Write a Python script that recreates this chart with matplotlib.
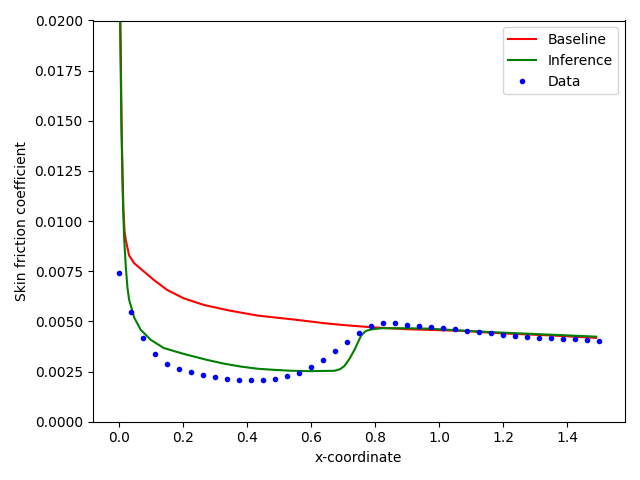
import matplotlib
matplotlib.use("Agg")
import matplotlib.pyplot as plt
import numpy as np

# baseline curve
x_base = [0.0, 0.004, 0.008, 0.0135, 0.017, 0.021, 0.031, 0.047, 0.078, 0.109,
          0.150, 0.202, 0.265, 0.342, 0.433, 0.49, 0.5375, 0.59,
          0.642, 0.7, 0.7875, 0.9, 1.069, 1.2, 1.35, 1.49]
cf_base = [0.03, 0.02, 0.0145, 0.0105, 0.0095, 0.00905, 0.0083, 0.0079, 0.00748, 0.00706,
           0.00657, 0.00615, 0.00582, 0.00555, 0.00529, 0.00519, 0.00511, 0.00501,
           0.00491, 0.00482, 0.00471, 0.00461, 0.00453, 0.0044, 0.0043, 0.00418]

# inference curve
x_inf = [0.0, 0.003, 0.007, 0.011, 0.0156, 0.021, 0.026, 0.031, 0.047, 0.0675,
         0.099, 0.140, 0.202, 0.275, 0.329, 0.38, 0.433, 0.49, 0.5375,
         0.6, 0.673, 0.69, 0.704, 0.72, 0.735, 0.756, 0.77, 0.7875, 0.819,
         0.9, 0.964, 1.17, 1.49]
cf_inf = [0.03, 0.02, 0.015, 0.0115, 0.0092, 0.0077, 0.0067, 0.0061, 0.0052, 0.00458,
          0.00408, 0.00367, 0.00338, 0.00308, 0.00289, 0.00275, 0.00264, 0.00258, 0.00254,
          0.00252, 0.00254, 0.00262, 0.00278, 0.00315, 0.00358, 0.00430, 0.00452, 0.0046, 0.00466,
          0.00466, 0.00464, 0.00446, 0.00424]

# measured data
x_data = np.arange(41) * 0.0375
cf_data = [0.0074, 0.00546, 0.00416, 0.00337, 0.00287, 0.00262, 0.00247, 0.00232, 0.00222, 0.00212,
           0.00207, 0.00207, 0.00207, 0.00212, 0.00227, 0.00242, 0.00272, 0.00307, 0.00352, 0.00397,
           0.00441, 0.00478, 0.00491, 0.00491, 0.00483, 0.00478, 0.00473, 0.00468, 0.00463, 0.00453,
           0.00448, 0.00441, 0.00434, 0.00429, 0.00424, 0.00419, 0.00419, 0.00414, 0.00414, 0.00409,
           0.00401]

fig, ax = plt.subplots(figsize=(6.4, 4.8), dpi=100)
ax.plot(x_base, cf_base, 'r-', label='Baseline')
ax.plot(x_inf, cf_inf, 'g-', label='Inference')
ax.plot(x_data, cf_data, 'b.', label='Data')
ax.set_xlim(-0.083, 1.58)
ax.set_ylim(0, 0.02)
ax.set_xlabel('x-coordinate')
ax.set_ylabel('Skin friction coefficient')
ax.legend()
fig.tight_layout()
fig.savefig('out.png')
